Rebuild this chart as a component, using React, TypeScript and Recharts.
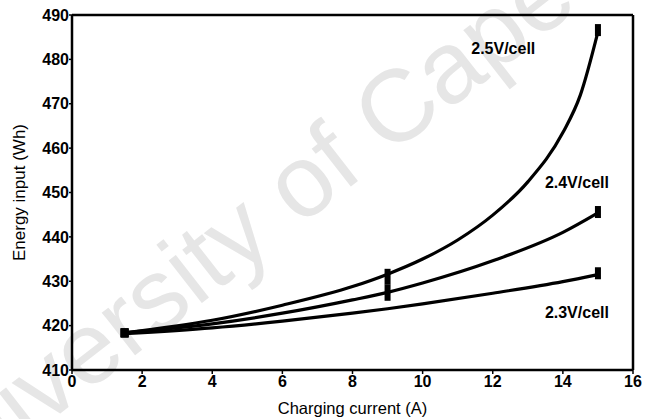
import React from 'react';
import {
  ComposedChart, Line, Scatter, XAxis, YAxis, ReferenceLine, ReferenceDot,
} from 'recharts';

// Smooth-curve samples
const curve25X = [1.5, 4, 6, 8, 9, 10, 11, 12, 13, 14, 14.5, 15];
const curve25Y = [418.4, 421.2, 424.6, 428.8, 431.6, 435.0, 439.3, 444.9, 452.4, 463.5, 472.0, 486.2];
const curve24X = [1.5, 4, 6, 8, 9, 10, 12, 14, 15];
const curve24Y = [418.4, 420.4, 422.8, 425.8, 427.5, 429.6, 434.6, 441.0, 445.4];
const curve23X = [1.5, 4, 6, 8, 9, 10, 12, 14, 15];
const curve23Y = [418.2, 419.5, 421.0, 422.8, 423.8, 424.9, 427.3, 429.9, 431.5];

// Measured points (markers)
const mark25X = [1.5, 9, 15];
const mark25Y = [418.4, 431.0, 486.6];
const mark24X = [1.5, 9, 15];
const mark24Y = [418.4, 427.4, 445.6];
const mark23X = [1.5, 15];
const mark23Y = [418.3, 431.8];

const xTicks = [0, 2, 4, 6, 8, 10, 12, 14, 16];
const yTicks = [410, 420, 430, 440, 450, 460, 470, 480, 490];

const seriesLabels = [
  { text: '2.5V/cell', x: 12.3, y: 482.6 },
  { text: '2.4V/cell', x: 14.4, y: 452.2 },
  { text: '2.3V/cell', x: 14.4, y: 422.9 },
];

const zip = (xs: number[], ys: number[]) => xs.map((x, i) => ({ x, y: ys[i] }));

const FONT = '"Liberation Sans", Arial, Helvetica, sans-serif';

const Marker = (props: any) => {
  const { cx, cy, payload } = props;
  if (cx == null || cy == null) return null;
  const first = payload && payload.x === 1.5;
  const mid = payload && payload.x === 9;
  const w = first ? 8 : 6;
  const h = first ? 9 : mid ? 16 : 12;
  return <rect x={cx - w / 2} y={cy - h / 2} width={w} height={h} fill="#000" />;
};

export default function App() {
  const axisStyle = { fontFamily: FONT, fontSize: 16, fontWeight: 'bold' as const, fill: '#000' };
  return (
    <div style={{ position: 'absolute', left: 0, top: 0, width: 646, height: 419, background: '#fff' }}>
      <svg width={646} height={419} style={{ position: 'absolute', left: 0, top: 0 }}>
        <text
          x={-76}
          y={520}
          transform="rotate(-38 -76 520)"
          fontFamily={FONT}
          fontSize={102}
          fill="#e6e6e6"
        >
          University of Cape Town
        </text>
      </svg>
      <div style={{ position: 'absolute', left: 0, top: 0 }}>
        <ComposedChart
          width={646}
          height={419}
          margin={{ top: 15, right: 13, bottom: 0, left: 0 }}
        >
          <XAxis
            type="number"
            dataKey="x"
            domain={[0, 16]}
            ticks={xTicks}
            interval={0}
            allowDataOverflow
            height={49}
            stroke="#000"
            axisLine={{ stroke: '#000', strokeWidth: 2.5 }}
            tickLine={{ stroke: '#000', strokeWidth: 1.5 }}
            tickSize={4}
            tick={axisStyle}
            label={{
              value: 'Charging current (A)',
              position: 'insideBottom',
              offset: 5,
              style: { fontFamily: FONT, fontSize: 16.5, fill: '#000', textAnchor: 'middle' },
            }}
          />
          <YAxis
            type="number"
            domain={[410, 490]}
            ticks={yTicks}
            interval={0}
            allowDataOverflow
            width={72}
            stroke="#000"
            axisLine={{ stroke: '#000', strokeWidth: 2.5 }}
            tickLine={{ stroke: '#000', strokeWidth: 1.5 }}
            tickSize={3}
            tickMargin={0}
            tick={axisStyle}
            label={{
              value: 'Energy input (Wh)',
              angle: -90,
              position: 'insideLeft',
              offset: 19,
              style: { fontFamily: FONT, fontSize: 17, fill: '#000', textAnchor: 'middle' },
            }}
          />
          <ReferenceLine y={490} stroke="#000" strokeWidth={2.5} />
          <ReferenceLine x={16} stroke="#000" strokeWidth={2.5} />
          <Line data={zip(curve25X, curve25Y)} dataKey="y" type="monotone" stroke="#000" strokeWidth={3.2} dot={false} isAnimationActive={false} />
          <Line data={zip(curve24X, curve24Y)} dataKey="y" type="monotone" stroke="#000" strokeWidth={3.2} dot={false} isAnimationActive={false} />
          <Line data={zip(curve23X, curve23Y)} dataKey="y" type="monotone" stroke="#000" strokeWidth={3.2} dot={false} isAnimationActive={false} />
          <Scatter data={zip(mark25X, mark25Y)} dataKey="y" shape={Marker} isAnimationActive={false} />
          <Scatter data={zip(mark24X, mark24Y)} dataKey="y" shape={Marker} isAnimationActive={false} />
          <Scatter data={zip(mark23X, mark23Y)} dataKey="y" shape={Marker} isAnimationActive={false} />
          {seriesLabels.map((l) => (
            <ReferenceDot
              key={l.text}
              x={l.x}
              y={l.y}
              r={0}
              stroke="none"
              fill="none"
              label={{
                value: l.text,
                position: 'center',
                style: { fontFamily: FONT, fontSize: 16, fontWeight: 'bold', fill: '#000' },
              }}
            />
          ))}
        </ComposedChart>
      </div>
    </div>
  );
}
